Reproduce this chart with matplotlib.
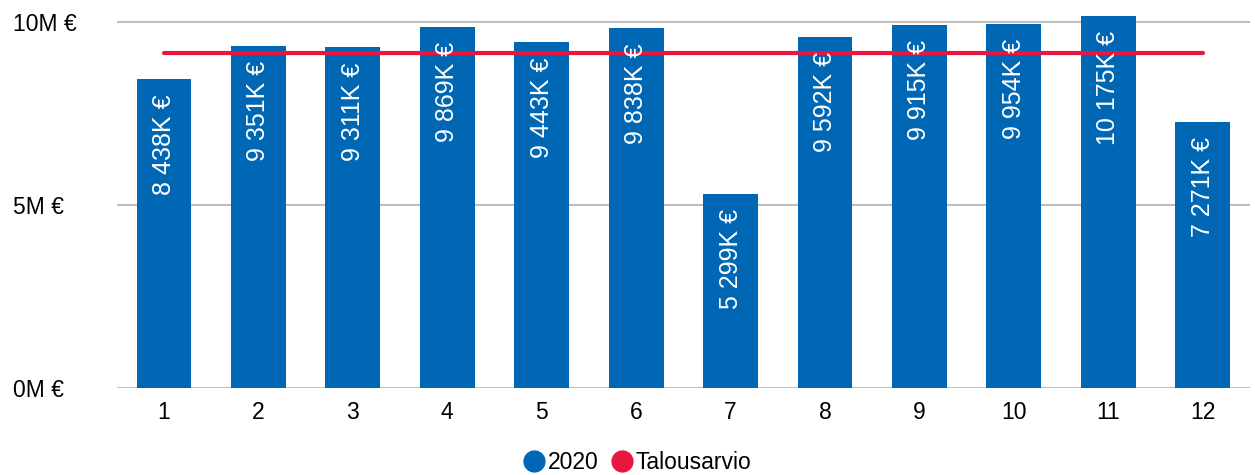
import matplotlib.pyplot as plt
from matplotlib.lines import Line2D

plt.rcParams['font.family'] = ['Liberation Sans', 'DejaVu Sans']

months = [1, 2, 3, 4, 5, 6, 7, 8, 9, 10, 11, 12]
# thousands of euros
sales_2020 = [8438, 9351, 9311, 9869, 9443, 9838, 5299, 9592, 9915, 9954, 10175, 7271]
budget = [9150] * 12
ytick_vals = [0, 5000, 10000]
ytick_labels = ['0M €', '5M €', '10M €']

blue = '#0067b4'
red = '#e8173f'


def fmt(v):
    return f"{v:,}".replace(",", " ") + "K €"


fig = plt.figure(figsize=(12.55, 4.75), dpi=100)
ax = fig.add_axes([0.093, 0.183, 0.903, 0.817])

ax.bar(months, sales_2020, width=0.58, color=blue, zorder=2)
ax.plot(months, budget, color=red, lw=3, zorder=3, solid_capstyle='round')

for m, v in zip(months, sales_2020):
    ax.annotate(fmt(v), (m, v), xytext=(0, -11), textcoords='offset points',
                rotation=90, ha='center', va='top', color='white', fontsize=18, zorder=4)

ax.set_xlim(0.5, 12.5)
ax.set_ylim(0, 10600)
ax.set_xticks(months)
ax.set_xticklabels([str(m) for m in months])
ax.set_yticks(ytick_vals)
ax.set_yticklabels(ytick_labels)
ax.tick_params(length=0, labelsize=16.5, pad=9)
ax.tick_params(axis='y', pad=75)
for lbl in ax.get_yticklabels():
    lbl.set_ha('left')
ax.yaxis.grid(True, color='#bfbfbf', lw=1.5, zorder=0)
for s in ax.spines.values():
    s.set_visible(False)

handles = [Line2D([], [], marker='o', ls='', color=blue, markersize=15),
           Line2D([], [], marker='o', ls='', color=red, markersize=15)]
fig.legend(handles, ['2020', 'Talousarvio'], loc='center', bbox_to_anchor=(0.508, 0.027),
           ncol=2, frameon=False, fontsize=16.5, handlelength=0.9,
           handletextpad=0.15, columnspacing=0.6)

fig.savefig('out.png', dpi=100)
